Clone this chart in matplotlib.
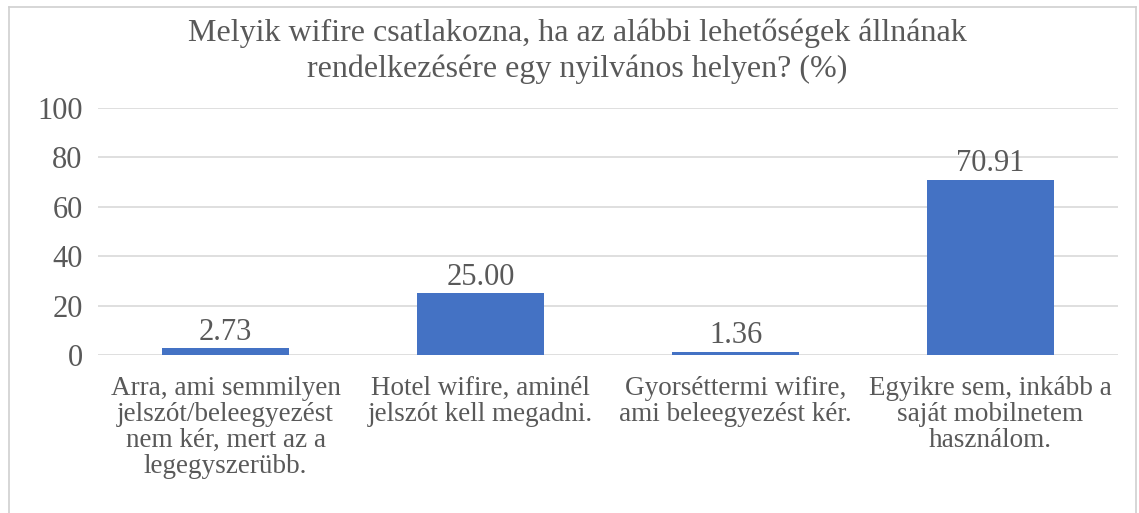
import matplotlib
matplotlib.use("Agg")
import matplotlib.pyplot as plt
from matplotlib.lines import Line2D

categories = [
    "Arra, ami semmilyen\njelszót/beleegyezést\nnem kér, mert az a\nlegegyszerübb.",
    "Hotel wifire, aminél\njelszót kell megadni.",
    "Gyorséttermi wifire,\nami beleegyezést kér.",
    "Egyikre sem, inkább a\nsaját mobilnetem\nhasználom.",
]
values = [2.73, 25.00, 1.36, 70.91]
yticks = [0, 20, 40, 60, 80, 100]
title = "Melyik wifire csatlakozna, ha az alábbi lehetőségek állnának\nrendelkezésére egy nyilvános helyen? (%)"

plt.rcParams['font.family'] = ['Liberation Serif', 'DejaVu Serif']
txt = '#595959'

fig = plt.figure(figsize=(11.39, 5.13), dpi=100)
ax = fig.add_axes([98/1139, 1-355/513, 1020/1139, 247/513])

x = list(range(len(values)))
bars = ax.bar(x, values, width=0.5, color='#4472C4', zorder=3)
for xi, v in zip(x, values):
    ax.annotate(f"{v:.2f}", (xi, v), xytext=(0, 1), textcoords='offset points',
                ha='center', va='bottom', fontsize=22, color=txt)

ax.set_xlim(-0.5, len(values)-0.5)
ax.set_ylim(0, 100)
ax.set_yticks(yticks)
ax.set_yticklabels([str(t) for t in yticks], fontsize=22, color=txt)
ax.set_xticks(x)
ax.set_xticklabels(categories, fontsize=19.5, color=txt, linespacing=1.05, va='top')
ax.tick_params(axis='both', length=0)
ax.tick_params(axis='y', pad=11)
ax.tick_params(axis='x', pad=15)
ax.yaxis.grid(True, color='#d9d9d9', linewidth=1.2, zorder=0)
ax.set_axisbelow(True)
for s in ax.spines.values():
    s.set_visible(False)

fig.text(577/1139, 1-19/513, title, ha='center', va='top', fontsize=23, color=txt, linespacing=1.25)

bc = '#d0d0d0'
fig.add_artist(Line2D([9/1139, 9/1139], [0, 1-7/513], transform=fig.transFigure, color=bc, lw=1.2))
fig.add_artist(Line2D([9/1139, 1136/1139], [1-7/513, 1-7/513], transform=fig.transFigure, color=bc, lw=1.2))
fig.add_artist(Line2D([1136/1139, 1136/1139], [0, 1-7/513], transform=fig.transFigure, color=bc, lw=1.2))

fig.savefig("out.png", dpi=100)
